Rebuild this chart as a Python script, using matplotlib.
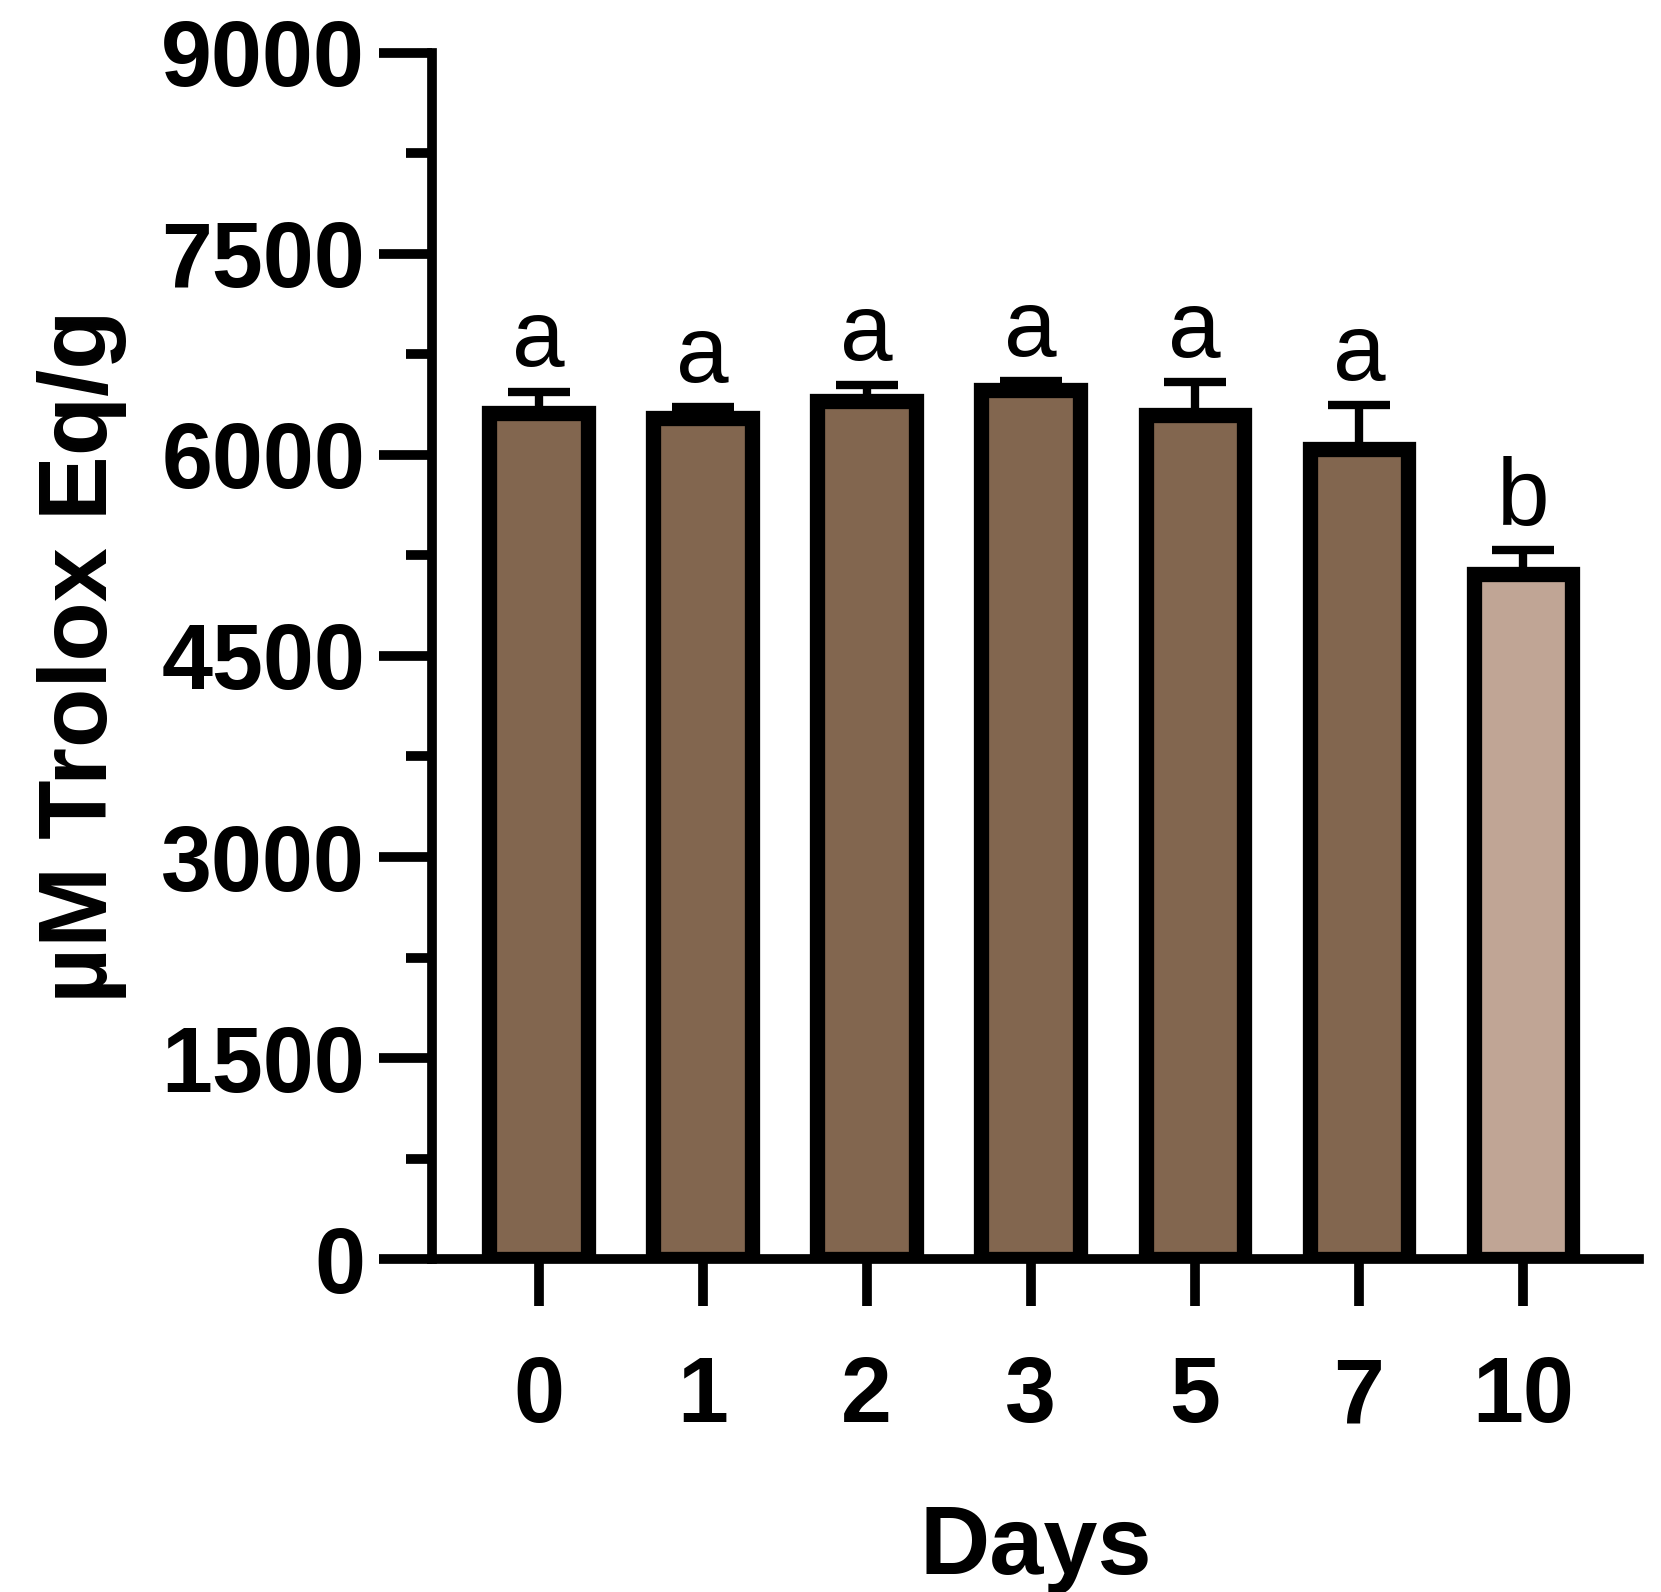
import matplotlib
matplotlib.use("Agg")
import matplotlib.pyplot as plt
from matplotlib.ticker import MultipleLocator

days = ["0", "1", "2", "3", "5", "7", "10"]
means = [6315, 6275, 6400, 6480, 6300, 6045, 5110]
errs = [155, 80, 120, 70, 240, 325, 180]
letters = ["a", "a", "a", "a", "a", "a", "b"]
colors = ["#82664F"] * 6 + ["#C0A595"]

plt.rcParams['font.family'] = ['Liberation Sans', 'DejaVu Sans']
fig = plt.figure(figsize=(16.61, 15.92), dpi=100)
ax = fig.add_axes([0.26, 0.209, 0.727, 0.758])
x = list(range(len(days)))
ax.bar(x, means, width=0.6, color=colors, edgecolor="black", linewidth=11, zorder=2)
ax.errorbar(x, means, yerr=[[0]*len(x), errs], fmt="none", ecolor="black",
            elinewidth=6, capsize=22, capthick=6, zorder=1)
for xi, m, e, l in zip(x, means, errs, letters):
    ax.text(xi, m + e + 40, l, ha="center", va="bottom", fontsize=68)
ax.set_xlim(-0.65, 6.71)
ax.set_ylim(0, 9000)
ax.yaxis.set_major_locator(MultipleLocator(1500))
ax.yaxis.set_minor_locator(MultipleLocator(750))
ax.set_xticks(x)
ax.set_xticklabels(days)
for s in ["top", "right"]:
    ax.spines[s].set_visible(False)
for s in ["left", "bottom"]:
    ax.spines[s].set_linewidth(7)
ax.tick_params(axis="y", which="major", length=38, width=7, labelsize=66, pad=10)
ax.tick_params(axis="y", which="minor", length=19, width=7)
ax.tick_params(axis="x", length=34, width=7, labelsize=66, pad=35)
for lab in ax.get_xticklabels() + ax.get_yticklabels():
    lab.set_fontweight("bold")
ax.set_ylabel("µM Trolox Eq/g", fontsize=70, fontweight="bold", labelpad=25)
ax.set_xlabel("Days", fontsize=70, fontweight="bold", labelpad=45)
fig.savefig("out.png", dpi=100)
